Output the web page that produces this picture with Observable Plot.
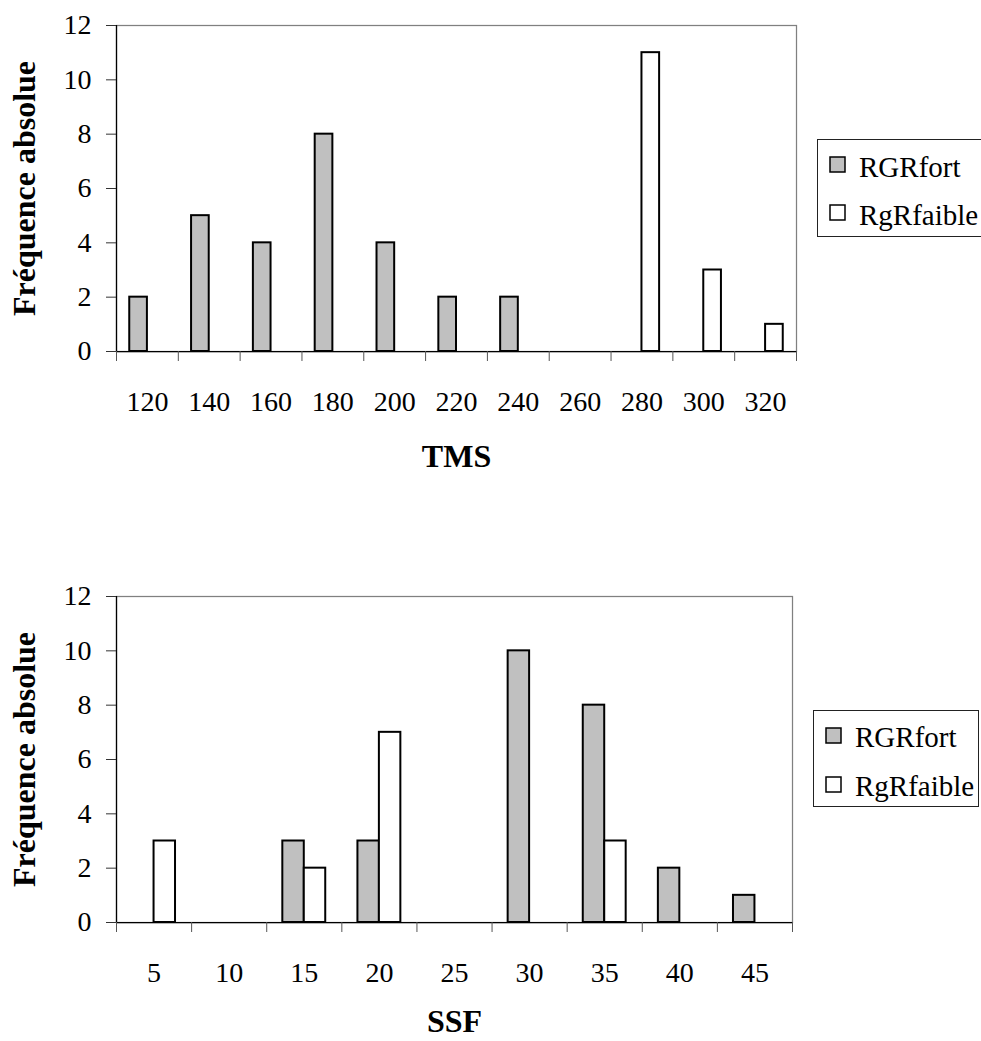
<!DOCTYPE html>
<html>
<head>
<meta charset="utf-8">
<script src="https://cdn.jsdelivr.net/npm/d3@7"></script>
<script src="https://cdn.jsdelivr.net/npm/@observablehq/plot@0.6"></script>
<style>
  html, body { margin: 0; padding: 0; background: #fff; overflow: hidden; }
  #wrap { position: relative; width: 981px; height: 1041px; overflow: hidden; background: #fff; }
  #wrap > svg { position: absolute; left: 0; }
</style>
</head>
<body>
<div id="wrap"></div>
<script>
// ---- Data ----
const tmsCategories = [120, 140, 160, 180, 200, 220, 240, 260, 280, 300, 320];
const tmsRGRfort    = [2, 5, 4, 8, 4, 2, 2, 0, 0, 0, 0];
const tmsRgRfaible  = [0, 0, 0, 0, 0, 0, 0, 0, 11, 3, 1];

const ssfCategories = [5, 10, 15, 20, 25, 30, 35, 40, 45];
const ssfRGRfort    = [0, 0, 3, 3, 0, 10, 8, 2, 1];
const ssfRgRfaible  = [3, 0, 2, 7, 0, 0, 3, 0, 0];

const yTicks = [0, 2, 4, 6, 8, 10, 12];
const seriesNames = ["RGRfort", "RgRfaible"];
const yTitle = "Fréquence absolue";

const FONT = "Liberation Serif, Times New Roman, Times, serif";
const GRAY = "#c0c0c0";

function chart({cats, fort, faible, xTitle, titleDy, height, marginTop, marginBottom, marginRight, tickPad}) {
  const step = cats[1] - cats[0];
  const barW = step / 3.5; // Excel gap width 150%
  const rows = cats.map((c, i) => ({c, fort: fort[i], faible: faible[i]}));
  const bounds = [...cats.map(c => c - step / 2), cats[cats.length - 1] + step / 2];
  return Plot.plot({
    width: 981,
    height,
    marginTop,
    marginBottom,
    marginLeft: 116,
    marginRight,
    style: {fontFamily: FONT, fontSize: "28px", background: "white", color: "black", overflow: "visible"},
    x: {domain: [bounds[0], bounds[bounds.length - 1]]},
    y: {domain: [0, 12]},
    marks: [
      Plot.frame({stroke: "#808080", strokeWidth: 1.25}),
      Plot.rectY(rows.filter(d => d.fort > 0), {
        x1: d => d.c - barW, x2: d => d.c, y1: 0, y2: "fort",
        inset: 0, fill: GRAY, stroke: "black", strokeWidth: 2
      }),
      Plot.rectY(rows.filter(d => d.faible > 0), {
        x1: d => d.c, x2: d => d.c + barW, y1: 0, y2: "faible",
        inset: 0, fill: "white", stroke: "black", strokeWidth: 2
      }),
      Plot.ruleX([bounds[0]], {stroke: "black", strokeWidth: 1.25}),
      Plot.ruleY([0], {stroke: "black", strokeWidth: 1.25}),
      Plot.axisY({ticks: yTicks, tickSize: 10, tickPadding: 15, label: null, stroke: "#333"}),
      Plot.axisX({ticks: bounds, tickSize: 10, tickFormat: () => "", label: null, stroke: "#555"}),
      Plot.axisX({ticks: cats, tickSize: 0, tickPadding: tickPad, label: null}),
      Plot.text([xTitle], {frameAnchor: "bottom", dy: titleDy, fontWeight: "bold", fontSize: 32, fill: "black"}),
      Plot.text([yTitle], {frameAnchor: "left", textAnchor: "middle", dx: -92, rotate: -90, fontWeight: "bold", fontSize: 32, fill: "black"})
    ]
  });
}

function legend({left, top, width, height, swX, swY, textX, base, rowGap}) {
  const svg = d3.create("svg")
    .attr("width", width + 2).attr("height", height + 2)
    .style("position", "absolute").style("left", left + "px").style("top", top + "px")
    .style("overflow", "visible");
  svg.append("rect").attr("x", 0.5).attr("y", 0.5).attr("width", width).attr("height", height)
    .attr("fill", "white").attr("stroke", "#222").attr("stroke-width", 1);
  const fills = [GRAY, "white"];
  seriesNames.forEach((name, i) => {
    svg.append("rect").attr("x", swX).attr("y", swY + i * rowGap).attr("width", 15).attr("height", 15)
      .attr("fill", fills[i]).attr("stroke", "black").attr("stroke-width", 1.5);
    svg.append("text").attr("x", textX).attr("y", base + i * rowGap)
      .style("font-family", FONT).style("font-size", "29px").attr("fill", "black").text(name);
  });
  return svg.node();
}

const wrap = document.getElementById("wrap");

const c1 = chart({cats: tmsCategories, fort: tmsRGRfort, faible: tmsRgRfaible, xTitle: "TMS", titleDy: 115,
  height: 540, marginTop: 25, marginBottom: 189, marginRight: 185, tickPad: 40});
c1.style.top = "0px";
wrap.appendChild(c1);

const c2 = chart({cats: ssfCategories, fort: ssfRGRfort, faible: ssfRgRfaible, xTitle: "SSF", titleDy: 109,
  height: 501, marginTop: 56, marginBottom: 119, marginRight: 189, tickPad: 40});
c2.style.top = "540px";
wrap.appendChild(c2);

wrap.appendChild(legend({left: 817, top: 139, width: 185, height: 97, swX: 13, swY: 18, textX: 42, base: 38, rowGap: 48}));
wrap.appendChild(legend({left: 813, top: 710, width: 165, height: 96, swX: 13, swY: 18, textX: 42, base: 37, rowGap: 49}));
</script>
</body>
</html>
